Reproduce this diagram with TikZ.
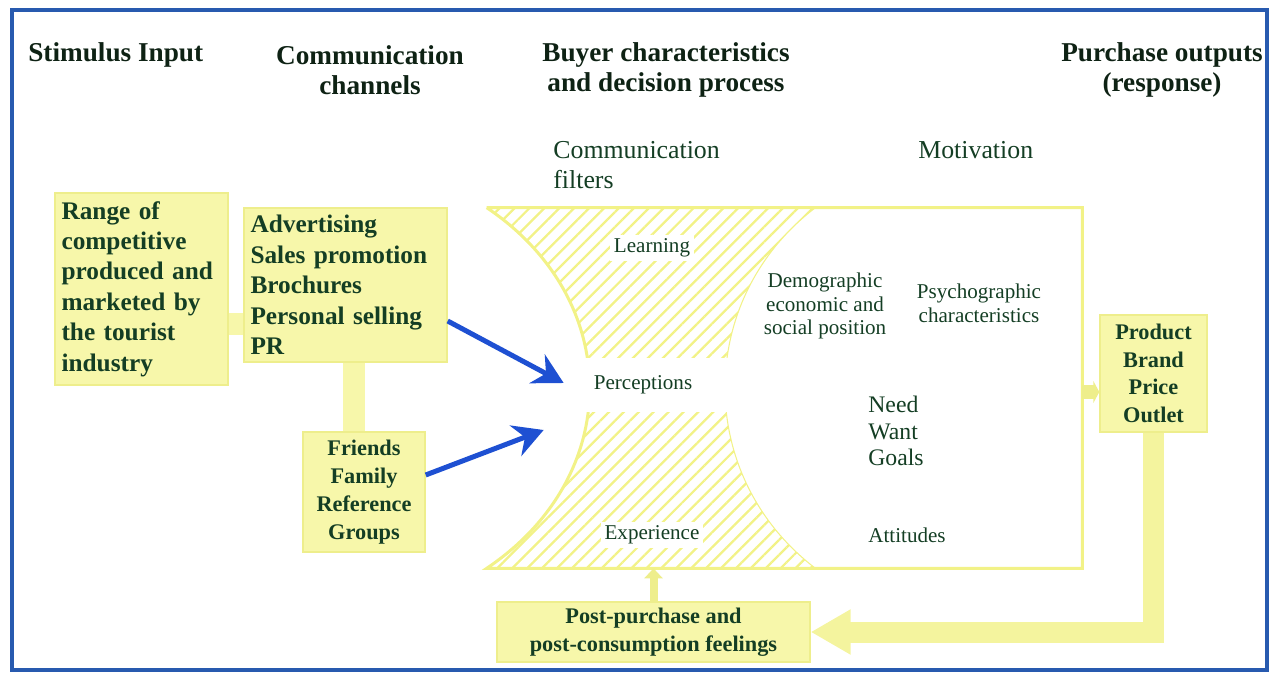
\documentclass[tikz,border=0pt]{standalone}
\usepackage{fontspec}
\setmainfont{Liberation Serif}
\usepackage{tikz}
\usetikzlibrary{positioning}
\usetikzlibrary{calc}
\usetikzlibrary{arrows.meta,patterns.meta}

\definecolor{boxfill}{RGB}{247,247,170}
\definecolor{boxline}{RGB}{238,238,140}
\definecolor{backfill}{RGB}{244,244,158}
\definecolor{hatch}{RGB}{242,242,135}
\definecolor{frameblue}{RGB}{40,90,175}
\definecolor{arrowblue}{RGB}{30,80,210}
\definecolor{inkgreen}{RGB}{20,62,36}
\definecolor{headink}{RGB}{14,34,20}

\begin{document}
\begin{tikzpicture}[x={(0.02cm,0)}, y={(0,-0.02cm)},
head node/.style={inner sep=0, text=headink, font=\fontsize{15.5}{17}\selectfont\bfseries, align=center},
txt node/.style={inner sep=0, text=inkgreen, font=\fontsize{14.7}{17}\selectfont},
small node/.style={inner sep=0, text=inkgreen, font=\fontsize{12}{13.5}\selectfont, align=center},
box node/.style={shape=rectangle, draw=boxline, fill=boxfill, line width=0.8pt, text=inkgreen, inner xsep=0.13cm, inner ysep=0},
big box/.style={box node, font=\fontsize{14.4}{17.3}\selectfont\bfseries, align=left},
little box/.style={box node, font=\fontsize{12.7}{15.8}\selectfont\bfseries, align=center},
bar/.style={draw=boxfill, line width=0.44cm},
blue arrow/.style={draw=arrowblue, line width=0.1cm, -{Stealth[length=0.6cm,width=0.65cm,inset=0.2cm]}},
small arrow/.style={draw=boxline, line width=0.16cm, -{Triangle[length=0.2cm,width=0.36cm]}},
side arrow/.style={draw=boxline, line width=0.3cm, -{Triangle[length=0.12cm,width=0.44cm]}},
back arrow/.style={draw=backfill, line width=0.42cm, -{Triangle[length=0.8cm,width=0.85cm]}},
]
\useasboundingbox (0,0) rectangle (1270,678);
\draw[draw=frameblue, line width=0.08cm] (12,10) rectangle (1267,670);

%headings
\node[head node, anchor=west] (hstim) at (28,55) {Stimulus Input};
\node[head node] (hchan) at (370,70) {Communication\\channels};
\node[head node] (hbuyer) at (666,70) {Buyer characteristics\\and decision process};
\node[head node] (hout) at (1162,70) {Purchase outputs\\(response)};

%buyer area + filters
\node[minimum width=11.9cm, minimum height=7.2cm, inner sep=0] (buyer) at (784.5,388) {};
\fill[pattern={Lines[angle=45,distance=6pt,line width=1.3pt]}, pattern color=hatch]
  (487,208) -- (815,208) .. controls (695,300) and (695,476) .. (815,568)
  -- (487,568) .. controls (624,476) and (624,300) .. (487,208);
\draw[draw=hatch, line width=0.06cm] (buyer.north west) -- (buyer.north east) -- (buyer.south east)
  -- (buyer.south west) .. controls (624,476) and (624,300) .. (buyer.north west);
\draw[draw=hatch, line width=0.6pt] (815,208) .. controls (695,300) and (695,476) .. (815,568);

\node[txt node, anchor=west, align=left] (filt) at (553,165) {Communication\\filters};
\node[txt node, anchor=west] (motiv) at (918,150) {Motivation};
\node[small node, fill=white, inner sep=2pt] (learn) at (652,248) {Learning};
\node[small node, fill=white, minimum width=3.4cm, minimum height=1.1cm] (perc) at (643,385) {Perceptions};
\node[small node, fill=white, inner sep=2pt] (exper) at (652,535) {Experience};
\node[small node] (demo) at (825,306) {Demographic\\economic and\\social position};
\node[small node] (psych) at (979,303) {Psychographic\\characteristics};
\node[txt node, anchor=west, align=left, font=\fontsize{13.5}{15.3}\selectfont] (need) at (868,431) {Need\\Want\\Goals};
\node[small node, anchor=west] (attit) at (868,535) {Attitudes};

%yellow boxes
\node[big box, minimum width=3.46cm, minimum height=3.84cm, text width=3.2cm] (range) at (141.5,289) {Range of\\competitive\\produced and\\marketed by\\the tourist\\industry};
\node[big box, minimum width=4.06cm, minimum height=3.08cm, text width=3.8cm] (advert) at (345.5,285) {Advertising\\Sales promotion\\Brochures\\Personal selling\\PR};
\node[little box, minimum width=2.44cm, minimum height=2.4cm] (friends) at (364,492) {Friends\\Family\\Reference\\Groups};
\node[little box, minimum width=2.14cm, minimum height=2.34cm] (prod) at (1153.5,373.5) {Product\\Brand\\Price\\Outlet};
\node[little box, minimum width=6.26cm, minimum height=1.2cm] (post) at (653.5,632) {Post-purchase and\\post-consumption feelings};

%links
\coordinate (b1) at ($(range.east)+(0,35)$);
\draw[bar] (b1) -- (b1 -| advert.west);
\coordinate (b2) at ($(friends.north)+(-10,0)$);
\draw[bar] (b2) -- (b2 |- advert.south);
\coordinate (out) at ($(buyer.east)+(0,4)$);
\draw[side arrow] (out) -- (out -| prod.west);
\draw[small arrow] (post.north) -- (post.north |- buyer.south);
\draw[back arrow] (prod.south) |- (post.east);

\draw[blue arrow] ($(advert.east)+(0,36)$) -- ($(perc.west)+(6,-2)$);
\draw[blue arrow] ($(friends.east)+(0,-17)$) -- ($(perc.west)+(-14,45)$);
\end{tikzpicture}
\end{document}
